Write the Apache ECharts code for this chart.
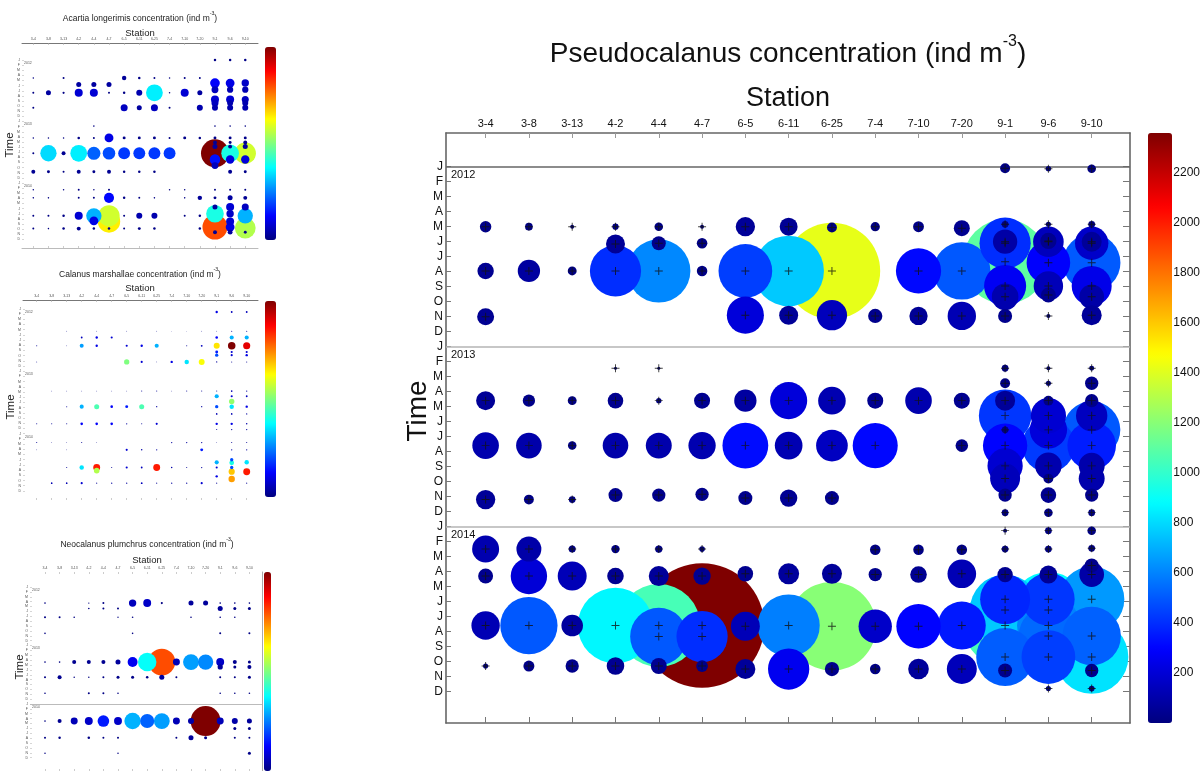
<!DOCTYPE html>
<html>
<head>
<meta charset="utf-8">
<script src="https://cdn.jsdelivr.net/npm/echarts@6/dist/echarts.min.js"></script>
<style>
  html, body { margin: 0; padding: 0; background: #fff; width: 1203px; height: 771px; overflow: hidden; }
  #main { position: absolute; left: 0; top: 0; width: 1203px; height: 771px; }
  .thumb { position: absolute; left: 0; width: 300px; filter: blur(0.45px); }
</style>
</head>
<body>
<div id="main"></div>
<div id="t1" class="thumb" style="top:0;height:250px"></div>
<div id="t2" class="thumb" style="top:250px;height:250px"></div>
<div id="t3" class="thumb" style="top:500px;height:271px"></div>
<script>
// ---- shared categories ----
const stations = ['3-4', '3-8', '3-13', '4-2', '4-4', '4-7', '6-5', '6-11', '6-25', '7-4', '7-10', '7-20', '9-1', '9-6', '9-10'];
const monthLetters = ['J', 'F', 'M', 'A', 'M', 'J', 'J', 'A', 'S', 'O', 'N', 'D'];
const years = ['2012', '2013', '2014'];
const colorTicks = [200, 400, 600, 800, 1000, 1200, 1400, 1600, 1800, 2000, 2200];

// ---- Pseudocalanus samples: [station index, months since Jan 2012, ind m^-3] ----
const pseudo2012 = [
  [0, 4.0, 20], [1, 4.0, 9], [2, 4.0, 2.4], [3, 4.0, 6], [4, 4.0, 11], [5, 4.0, 2.4], [6, 4.0, 57], [7, 4.0, 49],
  [8, 4.05, 15], [9, 4.0, 13], [10, 4.0, 18], [11, 4.1, 39], [12, 3.84, 7], [13, 3.84, 4], [14, 3.84, 7],
  [3, 5.15, 55], [4, 5.1, 30], [5, 5.1, 17],
  [0, 6.95, 41], [1, 6.95, 76], [2, 6.95, 12], [3, 6.95, 400], [4, 6.95, 610], [5, 6.95, 17], [6, 6.95, 440],
  [7, 6.95, 760], [8, 6.95, 1420], [10, 6.95, 312], [11, 6.95, 500],
  [0, 10.0, 44], [6, 9.9, 210], [7, 9.9, 55], [8, 9.9, 140], [9, 9.95, 31], [10, 9.95, 51], [11, 9.95, 123],
  [12, 9.95, 30], [13, 9.95, 2.5], [14, 9.9, 61],
  [12, 0.1, 15], [12, 5.1, 400], [12, 5.0, 90], [12, 6.33, 1100], [12, 7.95, 270], [12, 8.67, 108],
  [13, 0.13, 4.4], [13, 6.4, 290], [13, 5.0, 143], [13, 4.95, 40], [13, 7.95, 132], [13, 8.55, 34],
  [14, 0.13, 11], [14, 6.4, 505], [14, 5.1, 170], [14, 5.0, 61], [14, 7.95, 244], [14, 8.67, 93]
];
const pseudo2013 = [
  [3, 13.44, 1.4], [4, 13.44, 1.4], [12, 13.44, 7], [13, 13.44, 2.4], [14, 13.44, 3.8],
  [12, 14.44, 15], [13, 14.44, 4], [14, 14.44, 27],
  [0, 15.6, 55], [1, 15.6, 23], [2, 15.6, 12], [3, 15.6, 37], [4, 15.6, 4.4], [5, 15.6, 39], [6, 15.6, 76],
  [7, 15.6, 210], [8, 15.6, 116], [9, 15.6, 39], [10, 15.6, 108], [11, 15.6, 39], [12, 15.6, 61], [13, 15.6, 15], [14, 15.6, 27],
  [12, 16.6, 420], [13, 16.6, 190], [14, 16.6, 150],
  [12, 17.55, 7], [13, 17.55, 213], [14, 17.55, 500],
  [0, 18.6, 108], [1, 18.6, 100], [2, 18.6, 11], [3, 18.6, 100], [4, 18.6, 103], [5, 18.6, 114], [6, 18.6, 320],
  [7, 18.6, 117], [8, 18.6, 153], [9, 18.6, 310], [11, 18.6, 24], [12, 18.6, 300], [13, 18.6, 430], [14, 18.6, 360],
  [12, 19.95, 190], [13, 19.95, 108], [14, 19.95, 103],
  [12, 20.8, 137], [13, 20.8, 15], [14, 20.8, 103],
  [0, 22.2, 57], [1, 22.2, 15], [2, 22.2, 7], [3, 21.9, 30], [4, 21.9, 27], [5, 21.85, 27], [6, 22.1, 30],
  [7, 22.1, 46], [8, 22.1, 30], [12, 21.9, 27], [13, 21.9, 37], [14, 21.9, 27],
  [12, 23.07, 7], [13, 23.07, 11], [14, 23.07, 7]
];
const pseudo2014 = [
  [12, 24.27, 2.4], [13, 24.27, 7], [14, 24.27, 11],
  [0, 25.5, 111], [1, 25.5, 95], [2, 25.5, 7.5], [3, 25.5, 10.6], [4, 25.5, 8.2], [5, 25.5, 4.8],
  [9, 25.55, 17], [10, 25.55, 17], [11, 25.55, 17], [12, 25.5, 7], [13, 25.5, 7], [14, 25.45, 7],
  [0, 27.3, 34], [1, 27.3, 202], [2, 27.3, 128], [3, 27.3, 42], [4, 27.3, 61], [5, 27.3, 46], [6, 27.15, 37],
  [7, 27.15, 67], [8, 27.15, 61], [9, 27.2, 27], [10, 27.2, 42], [11, 27.15, 125], [12, 27.2, 36], [13, 27.2, 49],
  [14, 27.2, 93], [14, 26.6, 30],
  [12, 28.84, 381], [13, 28.84, 420], [14, 28.84, 650],
  [12, 29.56, 760], [13, 29.56, 880],
  [0, 30.6, 123], [1, 30.6, 500], [2, 30.6, 71], [3, 30.6, 870], [4, 30.6, 1050], [5, 30.6, 2360], [6, 30.65, 128],
  [7, 30.6, 590], [8, 30.65, 1200], [9, 30.65, 170], [10, 30.65, 300], [11, 30.6, 350], [12, 30.6, 1050], [13, 30.6, 600],
  [4, 31.33, 500], [5, 31.33, 400], [13, 31.3, 540], [14, 31.3, 520],
  [12, 32.7, 510], [13, 32.7, 440], [14, 32.7, 820],
  [0, 33.3, 4], [1, 33.3, 18.5], [2, 33.3, 27], [3, 33.3, 47], [4, 33.3, 39], [5, 33.3, 21],
  [6, 33.5, 61], [7, 33.5, 260], [8, 33.5, 31], [9, 33.5, 17], [10, 33.5, 65], [11, 33.5, 137],
  [12, 33.6, 30], [14, 33.6, 27], [13, 34.8, 4], [14, 34.8, 5]
];

// ---- smaller panels: [station index, months since Jan 2012, concentration] ----
const acartiaSamples = [
  [12, 0, 0.8], [13, 0, 0.8], [14, 0, 0.8],
  [0, 3.5, 0.3], [2, 3.5, 0.5], [6, 3.5, 2.5], [7, 3.5, 0.8], [8, 3.5, 0.5], [9, 3.5, 0.3], [10, 3.5, 0.5], [11, 3.5, 0.5],
  [12, 4.5, 12], [13, 4.5, 10], [14, 4.5, 7],
  [3, 4.8, 3.2], [4, 4.8, 3.2], [5, 4.8, 3.2],
  [12, 5.8, 6], [13, 5.8, 5], [14, 5.8, 5],
  [0, 6.4, 0.5], [1, 6.4, 3.2], [2, 6.4, 0.6], [3, 6.4, 8.2], [4, 6.4, 8.2], [5, 6.4, 0.5], [6, 6.4, 0.8], [7, 6.4, 4.6],
  [8, 6.4, 36], [9, 6.4, 0.3], [10, 6.4, 8.2], [11, 6.4, 3.2],
  [12, 7.7, 8.2], [13, 7.7, 8.2], [14, 7.7, 6.3], [12, 8.4, 6.3], [13, 8.4, 4.6], [14, 8.4, 4.6],
  [0, 9.3, 0.5], [6, 9.3, 6.3], [7, 9.3, 3.2], [8, 9.3, 6.3], [9, 9.3, 0.5], [11, 9.3, 4.6], [12, 9.3, 4.6], [13, 9.3, 4.6], [14, 9.3, 4.6],
  [4, 12.9, 0.3], [12, 12.9, 0.3], [13, 12.9, 0.3], [14, 12.9, 0.3],
  [0, 15.2, 0.3], [1, 15.2, 0.3], [2, 15.2, 0.3], [3, 15.2, 0.8], [4, 15.2, 0.5], [5, 15.2, 10], [6, 15.2, 1.1], [7, 15.2, 1.1],
  [8, 15.2, 1.1], [9, 15.2, 0.5], [10, 15.2, 1.1], [11, 15.2, 0.8], [12, 15.2, 1.1], [13, 15.2, 1.1], [14, 15.2, 1.1],
  [12, 16.1, 2], [13, 16.1, 1.1], [14, 16.1, 2], [12, 16.9, 3.2], [13, 16.9, 2], [14, 16.9, 3.2],
  [0, 18.2, 0.5], [1, 18.2, 34], [2, 18.2, 2], [3, 18.2, 36], [4, 18.2, 22], [5, 18.2, 20], [6, 18.2, 18], [7, 18.2, 18],
  [8, 18.2, 18], [9, 18.2, 18], [12, 18.2, 100], [13, 18.2, 40], [14, 18.2, 58],
  [12, 19.4, 14], [13, 19.4, 9], [14, 19.4, 9], [12, 20.6, 6],
  [0, 21.8, 2], [1, 21.8, 1.1], [2, 21.8, 0.5], [3, 21.8, 2], [4, 21.8, 1.1], [5, 21.8, 2], [6, 21.8, 0.8], [7, 21.8, 0.8],
  [8, 21.8, 0.8], [13, 21.8, 2], [14, 21.8, 1.1],
  [0, 25.3, 0.3], [2, 25.3, 0.3], [3, 25.3, 0.5], [4, 25.3, 0.3], [5, 25.3, 0.5], [9, 25.3, 0.3], [10, 25.3, 0.3],
  [12, 25.3, 0.5], [13, 25.3, 0.5], [14, 25.3, 0.5],
  [0, 26.9, 0.3], [1, 26.9, 0.3], [3, 26.9, 0.5], [4, 26.9, 0.5], [5, 26.9, 13], [6, 26.9, 0.8], [7, 26.9, 0.5],
  [8, 26.9, 0.3], [10, 26.9, 0.3], [11, 26.9, 2.5], [12, 26.9, 1.1], [13, 26.9, 3.2], [14, 26.9, 2],
  [12, 28.7, 3.2], [13, 28.7, 8.2], [14, 28.7, 6.3],
  [0, 30.4, 0.5], [1, 30.4, 0.5], [2, 30.4, 0.8], [3, 30.4, 8.2], [4, 30.4, 30], [5, 30.4, 58], [6, 30.4, 0.5],
  [7, 30.4, 4.6], [8, 30.4, 4.6], [10, 30.4, 0.5], [11, 30.4, 0.8], [12, 30.0, 40], [13, 30.0, 7], [14, 30.4, 30],
  [4, 31.4, 10], [5, 31.5, 64], [13, 31.5, 8.2], [13, 32.6, 10], [12, 32.6, 80], [14, 32.8, 55],
  [0, 32.9, 0.5], [1, 32.9, 0.3], [2, 32.9, 0.8], [3, 32.9, 2], [4, 32.9, 0.8], [5, 32.9, 0.8], [6, 32.9, 0.5],
  [7, 32.9, 1.1], [8, 32.9, 0.8], [11, 32.9, 0.8], [12, 33.6, 2], [13, 33.6, 3], [14, 33.6, 1.1]
];
const calanusSamples = [
  [12, 0.6, 10], [13, 0.6, 6], [14, 0.6, 6],
  [2, 4.3, 1], [4, 4.3, 1], [6, 4.3, 1], [8, 4.3, 1], [9, 4.3, 0.5], [10, 4.3, 0.5], [11, 4.3, 1], [12, 4.3, 1], [13, 4.3, 2], [14, 4.3, 2],
  [3, 5.5, 6], [4, 5.5, 10], [5, 5.5, 8], [12, 5.5, 12], [13, 5.5, 30], [14, 5.5, 30],
  [0, 7.1, 2], [2, 7.1, 1], [3, 7.1, 28], [4, 7.1, 10], [6, 7.1, 8], [7, 7.1, 10], [8, 7.1, 30], [10, 7.1, 2], [11, 7.1, 6],
  [12, 7.1, 65], [13, 7.1, 100], [14, 7.1, 90],
  [12, 8.3, 15], [12, 8.9, 20], [13, 8.3, 8], [13, 8.9, 8], [14, 8.3, 8], [14, 8.9, 10],
  [0, 10.2, 1.5], [6, 10.2, 50], [7, 10.2, 8], [8, 10.2, 1], [9, 10.2, 10], [10, 10.2, 35], [11, 10.2, 62], [12, 10.2, 3], [13, 10.2, 2], [14, 10.2, 2],
  [1, 15.8, 1], [2, 15.8, 1], [3, 15.8, 1], [4, 15.8, 1], [5, 15.8, 1], [6, 15.8, 1], [7, 15.8, 2], [8, 15.8, 2], [9, 15.8, 1],
  [10, 15.8, 2], [11, 15.8, 2], [12, 15.8, 2], [13, 15.8, 5], [14, 15.8, 3],
  [12, 16.8, 30], [13, 16.8, 8], [14, 16.8, 6], [13, 17.8, 52], [12, 18.8, 20],
  [2, 18.8, 2], [3, 18.8, 30], [4, 18.8, 45], [5, 18.8, 12], [6, 18.8, 15], [7, 18.8, 45], [8, 18.8, 3], [11, 18.8, 3], [13, 18.8, 35], [14, 18.8, 10],
  [12, 20.2, 5], [13, 20.2, 5], [14, 20.2, 3],
  [0, 22.1, 2], [1, 22.1, 2], [2, 22.1, 2], [3, 22.1, 12], [4, 22.1, 12], [5, 22.1, 12], [6, 22.1, 3], [7, 22.1, 2], [8, 22.1, 8],
  [12, 22.1, 10], [13, 22.1, 10], [14, 22.1, 4], [12, 23.2, 2], [13, 23.2, 3], [14, 23.2, 3],
  [0, 25.7, 2], [1, 25.7, 1], [2, 25.7, 1], [3, 25.7, 2], [4, 25.7, 1], [9, 25.7, 3], [10, 25.7, 3], [11, 25.7, 3], [12, 25.7, 1], [13, 25.7, 2], [14, 25.7, 2],
  [0, 27.1, 1], [2, 27.1, 1], [6, 27.1, 8], [7, 27.1, 4], [8, 27.1, 3], [11, 27.1, 15], [13, 27.1, 3], [14, 27.1, 3],
  [12, 29.5, 30], [13, 29.0, 20], [14, 29.5, 35], [13, 29.6, 40],
  [2, 30.5, 2], [3, 30.5, 35], [4, 30.5, 85], [5, 30.5, 2], [6, 30.5, 8], [7, 30.5, 6], [8, 30.5, 85], [9, 30.5, 4], [10, 30.5, 2],
  [11, 30.5, 3], [12, 30.5, 8], [13, 30.5, 20],
  [4, 31.1, 55], [13, 31.3, 68], [14, 31.3, 85], [12, 32.2, 10], [13, 32.7, 72],
  [1, 33.5, 5], [2, 33.5, 5], [3, 33.5, 8], [4, 33.5, 2], [5, 33.5, 3], [6, 33.5, 3], [7, 33.5, 6], [8, 33.5, 2], [9, 33.5, 3],
  [10, 33.5, 3], [11, 33.5, 8], [12, 33.5, 2], [14, 33.5, 2]
];
const neocalanusSamples = [
  [0, 3.3, 0.3], [3, 3.3, 0.2], [4, 3.3, 0.45], [6, 3.3, 6], [7, 3.3, 7], [8, 3.3, 0.5], [10, 3.3, 2.8], [11, 3.3, 2.8],
  [12, 3.3, 0.3], [13, 3.3, 0.3], [14, 3.3, 0.3],
  [3, 4.4, 0.3], [4, 4.4, 0.45], [5, 4.4, 0.45], [12, 4.4, 2.8], [13, 4.4, 1], [14, 4.4, 1],
  [0, 6.2, 0.45], [1, 6.2, 0.45], [2, 6.2, 0.3], [5, 6.2, 0.2], [6, 6.2, 0.3], [10, 6.2, 0.3], [12, 6.2, 0.3], [13, 6.2, 0.3],
  [0, 9.5, 0.3], [6, 9.5, 0.3], [12, 9.5, 0.45], [14, 9.5, 0.45],
  [0, 15.4, 0.3], [1, 15.4, 0.3], [2, 15.4, 1.8], [3, 15.4, 1.8], [4, 15.4, 1.8], [5, 15.4, 2.8], [6, 15.4, 11], [7, 15.4, 38],
  [8, 15.4, 80], [9, 15.4, 5.4], [10, 15.4, 28], [11, 15.4, 26], [12, 15.4, 7], [13, 15.4, 1.8], [14, 15.4, 1],
  [12, 16.4, 3], [13, 16.4, 1], [14, 16.4, 1.8],
  [0, 18.5, 0.45], [1, 18.5, 1.8], [2, 18.5, 0.25], [3, 18.5, 0.25], [4, 18.5, 0.45], [5, 18.5, 1], [6, 18.5, 1], [7, 18.5, 0.7],
  [8, 18.5, 2.8], [9, 18.5, 0.45], [12, 18.5, 0.45], [13, 18.5, 0.45], [14, 18.5, 1],
  [0, 21.8, 0.3], [3, 21.8, 0.45], [4, 21.8, 0.45], [5, 21.8, 0.3], [12, 21.8, 0.3], [13, 21.8, 0.3], [14, 21.8, 0.3],
  [0, 27.5, 0.3], [1, 27.5, 1.8], [2, 27.5, 5.4], [3, 27.5, 7], [4, 27.5, 15], [5, 27.5, 7], [6, 27.5, 30], [7, 27.5, 22],
  [8, 27.5, 28], [9, 27.5, 5.4], [10, 27.5, 4], [11, 27.5, 100], [12, 27.5, 5.4], [13, 27.5, 4], [14, 27.5, 2.8],
  [13, 29.0, 1], [14, 29.0, 1],
  [0, 30.9, 0.45], [1, 30.9, 0.7], [3, 30.9, 0.7], [4, 30.9, 0.45], [5, 30.9, 0.45], [9, 30.9, 0.45], [10, 30.9, 2.8],
  [11, 30.9, 1], [13, 30.9, 0.45], [14, 30.9, 0.45],
  [0, 34.1, 0.25], [5, 34.1, 0.25], [14, 34.1, 1]
];

// ---- styling ----
const FONT = 'Arial, "Liberation Sans", Helvetica, sans-serif';
const JET = ['#00007f', '#0000ff', '#007fff', '#00ffff', '#7fff7f', '#ffff00', '#ff7f00', '#ff0000', '#7f0000'];
const PLUS = 'path://M-0.12,-1L0.12,-1L0.12,-0.12L1,-0.12L1,0.12L0.12,0.12L0.12,1L-0.12,1L-0.12,0.12L-1,0.12L-1,-0.12L-0.12,-0.12Z';
const stationIdx = stations.map((_, i) => i);
const monthIdx = [];
years.forEach((_, y) => monthLetters.forEach((_, m) => monthIdx.push(y * 12 + m)));
const byValueDesc = arr => arr.slice().sort((a, b) => b[2] - a[2]);

// ================= main panel =================
const pseudoAll = byValueDesc(pseudo2012.concat(pseudo2013, pseudo2014));
const PSEUDO_MAX = 2360;
const G = { left: 446, top: 133, width: 684, height: 590 };
const CB = { left: 1148, top: 133, width: 24, height: 590 };
const xRange = { min: -0.915, max: 14.885 };
const yRange = { min: -2.25, max: 37.1 };

const yearLines = years.map((yr, i) => ({
  yAxis: i * 12,
  lineStyle: { color: i === 0 ? '#666' : '#b4b4b4', width: 1.6, type: 'solid' },
  label: { show: true, formatter: yr, position: 'insideStartBottom', distance: [5, 3], color: '#111', fontSize: 11, fontFamily: FONT }
}));

const mainOption = {
  animation: false,
  textStyle: { fontFamily: FONT },
  grid: [
    { left: G.left, top: G.top, width: G.width, height: G.height, show: false },
    { left: CB.left, top: CB.top, width: CB.width, height: CB.height, show: false }
  ],
  xAxis: [
    {
      gridIndex: 0, type: 'value', position: 'top', min: xRange.min, max: xRange.max,
      axisLine: { show: true, onZero: false, lineStyle: { color: '#666', width: 1.6 } },
      axisTick: { show: true, inside: true, length: 5, customValues: stationIdx, lineStyle: { color: '#999' } },
      axisLabel: { customValues: stationIdx, formatter: v => stations[v], fontSize: 11, color: '#111', margin: 4 },
      splitLine: { show: false }
    },
    {
      gridIndex: 0, type: 'value', position: 'bottom', min: xRange.min, max: xRange.max,
      axisLine: { show: true, onZero: false, lineStyle: { color: '#666', width: 1.6 } },
      axisTick: { show: true, inside: true, length: 6, customValues: stationIdx, lineStyle: { color: '#777' } },
      axisLabel: { show: false }, splitLine: { show: false }
    },
    { gridIndex: 1, type: 'value', show: false, min: 0, max: 1, axisLine: { onZero: false } }
  ],
  yAxis: [
    {
      gridIndex: 0, type: 'value', inverse: true, position: 'left', min: yRange.min, max: yRange.max,
      axisLine: { show: true, onZero: false, lineStyle: { color: '#666', width: 1.6 } },
      axisTick: { show: true, inside: true, length: 5, customValues: monthIdx, lineStyle: { color: '#777' } },
      axisLabel: { customValues: monthIdx, formatter: v => monthLetters[v % 12], fontSize: 12, color: '#111', margin: 3 },
      splitLine: { show: false }
    },
    {
      gridIndex: 0, type: 'value', inverse: true, position: 'right', min: yRange.min, max: yRange.max,
      axisLine: { show: true, onZero: false, lineStyle: { color: '#666', width: 1.6 } },
      axisTick: { show: true, inside: true, length: 7, customValues: monthIdx, lineStyle: { color: '#777' } },
      axisLabel: { show: false }, splitLine: { show: false }
    },
    {
      gridIndex: 1, type: 'value', position: 'right', min: 0, max: PSEUDO_MAX,
      axisLine: { show: false, onZero: false },
      axisTick: { show: true, inside: true, length: 6, customValues: colorTicks, lineStyle: { color: '#333' } },
      axisLabel: { customValues: colorTicks, formatter: v => String(v), fontSize: 12, color: '#111', margin: 3 },
      splitLine: { show: false }
    },
    {
      gridIndex: 1, type: 'value', position: 'left', min: 0, max: PSEUDO_MAX,
      axisLine: { show: false, onZero: false },
      axisTick: { show: true, inside: true, length: 6, customValues: colorTicks, lineStyle: { color: '#333' } },
      axisLabel: { show: false }, splitLine: { show: false }
    }
  ],
  visualMap: {
    type: 'continuous', min: 0, max: PSEUDO_MAX, dimension: 2, seriesIndex: 0,
    inRange: { color: JET }, calculable: false, hoverLink: false,
    left: CB.left, top: CB.top, itemWidth: CB.width, itemHeight: CB.height, padding: 0, z: 1
  },
  graphic: [
    {
      type: 'text', x: 788, y: 51, z: 10,
      style: {
        text: '{a|Pseudocalanus concentration (ind m}{s|-3}{a|)}',
        align: 'center', verticalAlign: 'middle',
        rich: {
          a: { fontSize: 28, fontFamily: FONT, fill: '#111', lineHeight: 34, verticalAlign: 'bottom' },
          s: { fontSize: 16, fontFamily: FONT, fill: '#111', lineHeight: 34, verticalAlign: 'top' }
        }
      }
    },
    { type: 'text', x: 788, y: 99, z: 10, style: { text: 'Station', fontSize: 27, fontFamily: FONT, fill: '#111', align: 'center', verticalAlign: 'middle' } },
    { type: 'text', x: 418, y: 411, rotation: Math.PI / 2, z: 10, style: { text: 'Time', fontSize: 28, fontFamily: FONT, fill: '#111', align: 'center', verticalAlign: 'middle' } }
  ],
  series: [
    {
      type: 'scatter', xAxisIndex: 0, yAxisIndex: 0, data: pseudoAll,
      symbol: 'circle', symbolSize: d => 2.56 * Math.sqrt(d[2]),
      itemStyle: { opacity: 1 }, emphasis: { disabled: true }, silent: true, z: 2
    },
    {
      type: 'scatter', xAxisIndex: 0, yAxisIndex: 0, data: pseudoAll,
      symbol: PLUS, symbolSize: 8, itemStyle: { color: '#111', opacity: 0.8 },
      emphasis: { disabled: true }, silent: true, z: 3,
      markLine: { silent: true, symbol: 'none', animation: false, data: yearLines, z: 1 }
    },
    { type: 'scatter', xAxisIndex: 2, yAxisIndex: 2, data: [] }
  ]
};
echarts.init(document.getElementById('main'), null, { renderer: 'canvas' }).setOption(mainOption);

// ================= small panels =================
function panelOption(c) {
  const yMin = (c.grid.top - c.y0) / c.monthPx;
  const yMax = (c.grid.top + c.grid.height - c.y0) / c.monthPx;
  const xMin = (c.grid.left - c.x0) / c.dx;
  const xMax = (c.grid.left + c.grid.width - c.x0) / c.dx;
  const tiny = { fontSize: c.tinyFont, color: '#555', fontFamily: FONT };
  const lines = years.map((yr, i) => ({
    yAxis: i * 12,
    lineStyle: { color: c.yearLineColor[i], width: 1, type: 'solid' },
    label: { show: true, formatter: yr, position: 'insideStartBottom', distance: [2, 1], ...tiny }
  }));
  return {
    animation: false,
    grid: [
      { left: c.grid.left, top: c.grid.top, width: c.grid.width, height: c.grid.height },
      { left: c.cbar.left, top: c.cbar.top, width: c.cbar.width, height: c.cbar.height }
    ],
    xAxis: [
      {
        gridIndex: 0, type: 'value', position: 'top', min: xMin, max: xMax,
        axisLine: { show: c.topLine, onZero: false, lineStyle: { color: '#777', width: 1 } },
        axisTick: { show: true, inside: true, length: 2, customValues: stationIdx, lineStyle: { color: '#aaa', width: 0.6 } },
        axisLabel: { customValues: stationIdx, formatter: v => stations[v], margin: 2, ...tiny },
        splitLine: { show: false }
      },
      {
        gridIndex: 0, type: 'value', position: 'bottom', min: xMin, max: xMax,
        axisLine: { show: c.bottomLine, onZero: false, lineStyle: { color: '#bbb', width: 1 } },
        axisTick: { show: true, inside: true, length: 2, customValues: stationIdx, lineStyle: { color: '#aaa', width: 0.6 } },
        axisLabel: { show: false }, splitLine: { show: false }
      },
      { gridIndex: 1, type: 'value', show: false, min: 0, max: 1, axisLine: { onZero: false } }
    ],
    yAxis: [
      {
        gridIndex: 0, type: 'value', inverse: true, position: 'left', min: yMin, max: yMax,
        axisLine: { show: false, onZero: false },
        axisTick: { show: true, inside: true, length: 2, customValues: monthIdx, lineStyle: { color: '#bbb', width: 0.6 } },
        axisLabel: { customValues: monthIdx, formatter: v => monthLetters[v % 12], margin: 2, ...tiny },
        splitLine: { show: false }
      },
      {
        gridIndex: 0, type: 'value', inverse: true, position: 'right', min: yMin, max: yMax,
        axisLine: { show: c.rightLine, onZero: false, lineStyle: { color: '#aaa', width: 1 } },
        axisTick: { show: false }, axisLabel: { show: false }, splitLine: { show: false }
      },
      {
        gridIndex: 1, type: 'value', position: 'right', min: 0, max: c.vmax,
        axisLine: { show: false, onZero: false }, axisTick: { show: false }, axisLabel: { show: false }, splitLine: { show: false }
      }
    ],
    visualMap: {
      type: 'continuous', min: 0, max: c.vmax, dimension: 2, seriesIndex: 0,
      inRange: { color: JET }, calculable: false, hoverLink: false,
      left: c.cbar.left, top: c.cbar.top, itemWidth: c.cbar.width, itemHeight: c.cbar.height, padding: 0
    },
    graphic: [
      {
        type: 'text', x: c.titleX, y: c.titleY,
        style: {
          text: '{a|' + c.title + ' concentration (ind m}{s|-3}{a|)}', align: 'center', verticalAlign: 'middle',
          rich: {
            a: { fontSize: c.titleFont, fontFamily: FONT, fill: '#222', lineHeight: 12, verticalAlign: 'bottom' },
            s: { fontSize: c.titleFont * 0.6, fontFamily: FONT, fill: '#222', lineHeight: 12, verticalAlign: 'top' }
          }
        }
      },
      { type: 'text', x: c.titleX, y: c.stationY, style: { text: 'Station', fontSize: c.titleFont + 1, fontFamily: FONT, fill: '#222', align: 'center', verticalAlign: 'middle' } },
      { type: 'text', x: c.timeX, y: c.timeY, rotation: Math.PI / 2, style: { text: 'Time', fontSize: c.titleFont + 3, fontFamily: FONT, fill: '#222', align: 'center', verticalAlign: 'middle' } }
    ],
    series: [
      {
        type: 'scatter', xAxisIndex: 0, yAxisIndex: 0, data: byValueDesc(c.data),
        symbol: 'circle', symbolSize: d => c.maxDiam * Math.sqrt(d[2] / c.vmax),
        itemStyle: { opacity: 1 }, emphasis: { disabled: true }, silent: true, z: 2,
        markLine: { silent: true, symbol: 'none', animation: false, data: lines }
      },
      { type: 'scatter', xAxisIndex: 2, yAxisIndex: 2, data: [] }
    ]
  };
}

const panels = [
  {
    el: 't1', title: 'Acartia longerimis', data: acartiaSamples, vmax: 100, maxDiam: 28,
    grid: { left: 22, top: 43, width: 236, height: 205 }, x0: 33.3, dx: 15.14, y0: 60, monthPx: 5.125,
    cbar: { left: 265, top: 47, width: 11, height: 193 },
    titleX: 140, titleY: 17, stationY: 33, timeX: 10, timeY: 145, titleFont: 8.5, tinyFont: 3.5,
    topLine: true, bottomLine: true, rightLine: false, yearLineColor: ['rgba(0,0,0,0)', 'rgba(0,0,0,0)', 'rgba(0,0,0,0)']
  },
  {
    el: 't2', title: 'Calanus marshallae', data: calanusSamples, vmax: 100, maxDiam: 7.5,
    grid: { left: 23, top: 50, width: 235, height: 203 }, x0: 36.7, dx: 15, y0: 59, monthPx: 5.28,
    cbar: { left: 265, top: 51, width: 11, height: 196 },
    titleX: 140, titleY: 23, stationY: 38, timeX: 11, timeY: 157, titleFont: 8.5, tinyFont: 3.5,
    topLine: true, bottomLine: true, rightLine: false, yearLineColor: ['rgba(0,0,0,0)', 'rgba(0,0,0,0)', 'rgba(0,0,0,0)']
  },
  {
    el: 't3', title: 'Neocalanus plumchrus', data: neocalanusSamples, vmax: 100, maxDiam: 30,
    grid: { left: 30, top: 72, width: 232, height: 199 }, x0: 45, dx: 14.6, y0: 87, monthPx: 4.875,
    cbar: { left: 264, top: 72, width: 7, height: 199 },
    titleX: 147, titleY: 43, stationY: 60, timeX: 20, timeY: 167, titleFont: 8.5, tinyFont: 3.5,
    topLine: false, bottomLine: false, rightLine: true, yearLineColor: ['rgba(0,0,0,0)', 'rgba(0,0,0,0)', '#bbb']
  }
];
panels.forEach(p => echarts.init(document.getElementById(p.el), null, { renderer: 'canvas' }).setOption(panelOption(p)));
</script>
</body>
</html>
